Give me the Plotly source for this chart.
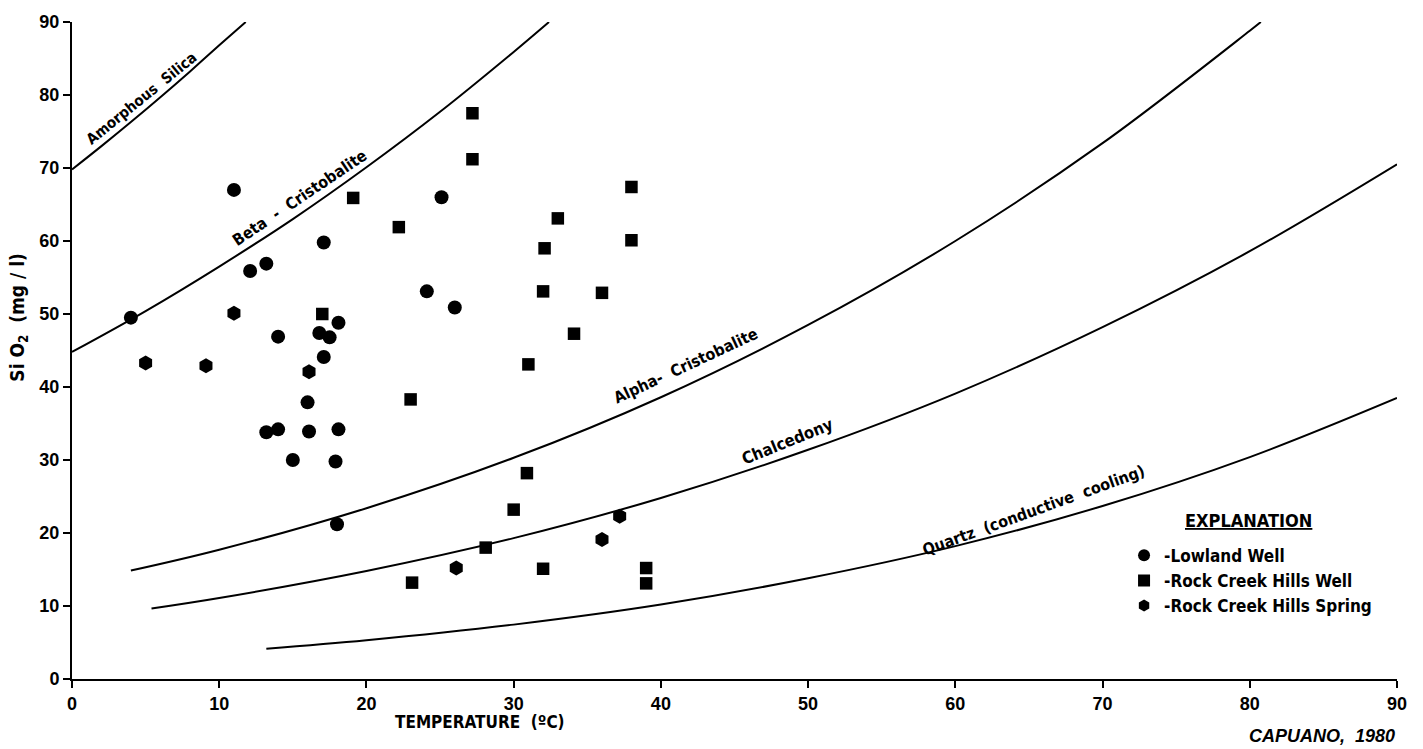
import plotly.graph_objects as go

# ---- Data ----
lowland_x = [4, 11, 12.1, 13.2, 14, 17.1, 16.8, 17.5, 18.1, 17.1, 16, 16.1, 13.2, 14, 15, 17.9, 18.1, 18, 24.1, 25.1, 26]
lowland_y = [49.5, 67, 55.9, 56.9, 46.9, 59.8, 47.4, 46.8, 48.8, 44.1, 37.9, 33.9, 33.8, 34.2, 30, 29.8, 34.2, 21.2, 53.1, 66, 50.9]

well_x = [17, 19.1, 22.2, 27.2, 27.2, 23, 31, 32, 32.1, 33, 34.1, 36, 38, 38, 30.9, 30, 28.1, 23.1, 32, 39, 39]
well_y = [50, 65.9, 61.9, 71.2, 77.5, 38.3, 43.1, 53.1, 59, 63.1, 47.3, 52.9, 67.4, 60.1, 28.2, 23.2, 18, 13.2, 15.1, 15.2, 13.1]

spring_x = [5, 9.1, 11, 16.1, 26.1, 36, 37.2]
spring_y = [43.3, 42.9, 50.1, 42.1, 15.2, 19.1, 22.3]

# solubility curves
amorph_t = [0, 2, 4, 6, 8, 10, 11.8]
amorph_c = [69.8, 73.0, 76.3, 79.7, 83.2, 86.8, 90.0]

beta_t = [0, 5, 10, 15, 20, 25, 30, 32.4]
beta_c = [44.8, 50.4, 56.5, 63.0, 70.1, 77.7, 85.9, 90.0]

alpha_t = [4, 10, 20, 30, 40, 50, 60, 70, 80, 80.75]
alpha_c = [14.85, 17.7, 23.4, 30.3, 38.6, 48.5, 60.0, 73.4, 88.8, 90.0]

chalc_t = [5.4, 10, 20, 30, 40, 50, 60, 70, 80, 90]
chalc_c = [9.66, 11.1, 14.8, 19.3, 24.8, 31.4, 39.1, 48.2, 58.6, 70.5]

quartz_t = [13.2, 20, 30, 40, 50, 60, 70, 80, 90]
quartz_c = [4.16, 5.31, 7.45, 10.2, 13.8, 18.2, 23.7, 30.4, 38.5]

curve_labels = ["Amorphous  Silica", "Beta  -  Cristobalite", "Alpha-  Cristobalite", "Chalcedony", "Quartz  (conductive  cooling)"]
label_x = [4.75, 15.5, 41.7, 48.6, 65.3]
label_y = [79.6, 65.9, 43.0, 32.6, 23.1]
label_angle = [-39, -34, -25, -22, -20]
label_size = [15, 16, 16, 16.5, 16]

tick_vals = [0, 10, 20, 30, 40, 50, 60, 70, 80, 90]

NARROW = "Liberation Sans Narrow, DejaVu Sans Condensed, sans-serif"
BOLD = "Liberation Sans, Arial, sans-serif"

fig = go.Figure()

for t, c in [(amorph_t, amorph_c), (beta_t, beta_c), (alpha_t, alpha_c), (chalc_t, chalc_c), (quartz_t, quartz_c)]:
    fig.add_trace(go.Scatter(x=t, y=c, mode="lines", line=dict(color="black", width=2, shape="spline"),
                             showlegend=False, hoverinfo="skip"))

fig.add_trace(go.Scatter(x=lowland_x, y=lowland_y, mode="markers", name="-Lowland Well",
                         marker=dict(symbol="circle", size=14, color="black")))
fig.add_trace(go.Scatter(x=well_x, y=well_y, mode="markers", name="-Rock Creek Hills Well",
                         marker=dict(symbol="square", size=12.5, color="black")))
fig.add_trace(go.Scatter(x=spring_x, y=spring_y, mode="markers", name="-Rock Creek Hills Spring",
                         marker=dict(symbol="hexagon", size=15, color="black")))

for txt, x, y, a, s in zip(curve_labels, label_x, label_y, label_angle, label_size):
    fig.add_annotation(x=x, y=y, text="<b>" + txt + "</b>", showarrow=False, textangle=a,
                       font=dict(family=NARROW, size=s, color="black"))

axis_common = dict(range=[0, 90], tickvals=tick_vals, showgrid=False, zeroline=False,
                   showline=True, linecolor="black", linewidth=2,
                   ticks="outside", ticklen=7, tickwidth=2, tickcolor="black",
                   tickfont=dict(family=BOLD, size=18, color="black", weight="bold"))

fig.update_layout(
    width=1423, height=749,
    margin=dict(l=72, r=26, t=16, b=70),
    paper_bgcolor="white", plot_bgcolor="white",
    xaxis=dict(**axis_common),
    yaxis=dict(**axis_common),
    xaxis2=dict(overlaying="x", anchor="y", range=[0, 90], tickvals=tick_vals, showgrid=False,
                zeroline=False, showticklabels=False, ticks="inside", ticklen=6, tickwidth=2,
                tickcolor="black", side="bottom"),
    yaxis2=dict(overlaying="y", anchor="x", range=[0, 90], tickvals=tick_vals, showgrid=False,
                zeroline=False, showticklabels=False, ticks="inside", ticklen=6, tickwidth=2,
                tickcolor="black", side="left"),
    legend=dict(x=0.794, y=0.215, xanchor="left", yanchor="top", bgcolor="rgba(0,0,0,0)",
                font=dict(family=NARROW, size=17, color="black", weight="bold"),
                itemsizing="constant", tracegroupgap=4),
    showlegend=True,
)

fig.add_annotation(xref="paper", yref="paper", x=0.888, y=0.241, xanchor="center", yanchor="middle",
                   text="<b><u>EXPLANATION</u></b>", showarrow=False,
                   font=dict(family=NARROW, size=18, color="black"))
fig.add_annotation(xref="paper", yref="paper", x=0.308, y=-0.066, xanchor="center", yanchor="middle",
                   text="<b>TEMPERATURE  (ºC)</b>", showarrow=False,
                   font=dict(family=NARROW, size=17, color="black"))
fig.add_annotation(xref="paper", yref="paper", x=-0.04, y=0.55, xanchor="center", yanchor="middle",
                   text="<b>Si O<sub>2</sub>  (mg / l)</b>", showarrow=False, textangle=-90,
                   font=dict(family=NARROW, size=19, color="black"))
fig.add_annotation(xref="paper", yref="paper", x=1.0, y=-0.087, xanchor="right", yanchor="middle",
                   text="<b><i>CAPUANO,  1980</i></b>", showarrow=False,
                   font=dict(family=BOLD, size=18, color="black"))

fig.write_html("out.html")
